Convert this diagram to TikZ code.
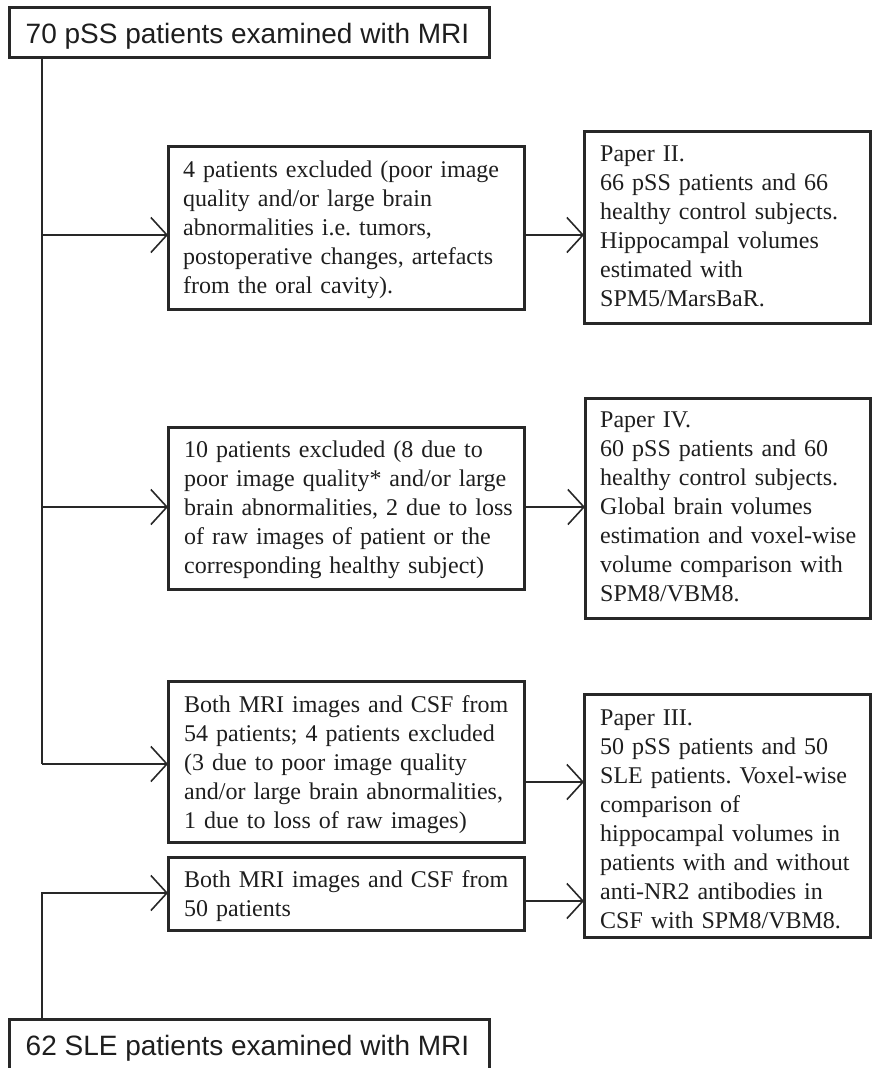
\documentclass[tikz,border=0pt]{standalone}
\usepackage{fontspec}
\setmainfont{Liberation Serif}
\newfontfamily\arialf{Liberation Sans}
\usetikzlibrary{arrows.meta}
\definecolor{ink}{RGB}{40,40,40}
\definecolor{txt}{RGB}{30,30,30}
\frenchspacing
\begin{document}
\begin{tikzpicture}[x=1pt,y=-1pt,
  box/.style={draw=ink, line width=3pt, inner sep=0pt, outer sep=0pt, anchor=north west},
  conn/.style={draw=ink, line width=1.6pt},
  arr/.style={conn, -{Straight Barb[length=16pt,width=35pt]}},
  body/.style={anchor=base west, inner sep=0pt, align=left, text width=340pt,
    font=\frenchspacing\fontsize{24}{29}\selectfont, text=txt},
  title/.style={anchor=base, inner sep=0pt, font=\arialf\fontsize{28}{34}\selectfont, text=txt}]
\useasboundingbox (0,0) rectangle (871,1068);

% boxes
\node[box, minimum width=480pt, minimum height=50pt] (top) at (9,7) {};
\node[box, minimum width=480pt, minimum height=50pt] (bot) at (9,1019) {};
\node[box, minimum width=356pt, minimum height=163pt] (b1) at (168,146) {};
\node[box, minimum width=356pt, minimum height=162pt] (b2) at (168,427) {};
\node[box, minimum width=356pt, minimum height=161pt] (b3) at (168,681) {};
\node[box, minimum width=356pt, minimum height=73pt] (b4) at (168,857) {};
\node[box, minimum width=286pt, minimum height=192pt] (p2) at (584,131) {};
\node[box, minimum width=285pt, minimum height=220pt] (p4) at (585,398) {};
\node[box, minimum width=286pt, minimum height=243pt] (p3) at (584,694) {};

% texts
\node[title] (topt) at (247.5,43) {70 pSS patients examined with MRI};
\node[title] (bott) at (247.5,1055) {62 SLE patients examined with MRI};
\node[body] (b1t) at (183,177) {4 patients excluded (poor image\\quality and/or large brain\\abnormalities i.e. tumors,\\postoperative changes, artefacts\\from the oral cavity).};
\node[body] (b2t) at (184,457) {10 patients excluded (8 due to\\poor image quality* and/or large\\brain abnormalities, 2 due to loss\\of raw images of patient or the\\corresponding healthy subject)};
\node[body] (b3t) at (184,712) {Both MRI images and CSF from\\54 patients; 4 patients excluded\\(3 due to poor image quality\\and/or large brain abnormalities,\\1 due to loss of raw images)};
\node[body] (b4t) at (184,887) {Both MRI images and CSF from\\50 patients};
\node[body] (p2t) at (600,161) {Paper II.\\66 pSS patients and 66\\healthy control subjects.\\Hippocampal volumes\\estimated with\\SPM5/MarsBaR.};
\node[body] (p4t) at (600,427) {Paper IV.\\60 pSS patients and 60\\healthy control subjects.\\Global brain volumes\\estimation and voxel-wise\\volume comparison with\\SPM8/VBM8.};
\node[body] (p3t) at (600,725) {Paper III.\\50 pSS patients and 50\\SLE patients. Voxel-wise\\comparison of\\hippocampal volumes in\\patients with and without\\anti-NR2 antibodies in\\CSF with SPM8/VBM8.};

% junctions
\coordinate (j1) at (42,235);
\coordinate (j2) at (42,507);
\coordinate (j3) at (42,764);
\coordinate (j4) at (42,893);
\coordinate (k3) at (524,782);
\coordinate (k4) at (524,901);

% connectors
\draw[conn] (top.south -| j1) -- (j3);
\draw[arr] (j1) -- (j1 -| b1.west);
\draw[arr] (j2) -- (j2 -| b2.west);
\draw[arr] (j3) -- (j3 -| b3.west);
\draw[arr] (bot.north -| j4) -- (j4) -- (j4 -| b4.west);
\draw[arr] (b1.east |- j1) -- (p2.west |- j1);
\draw[arr] (b2.east |- j2) -- (p4.west |- j2);
\draw[arr] (k3) -- (k3 -| p3.west);
\draw[arr] (k4) -- (k4 -| p3.west);
\end{tikzpicture}
\end{document}
